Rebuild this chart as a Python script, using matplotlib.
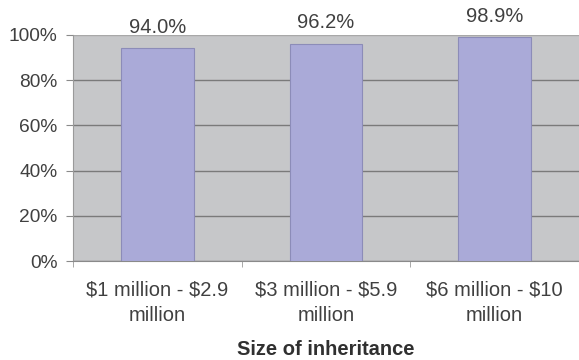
import matplotlib
matplotlib.use('Agg')
import matplotlib.pyplot as plt
from matplotlib.ticker import FixedLocator, PercentFormatter

# data
categories = ['\\$1 million - \\$2.9\nmillion', '\\$3 million - \\$5.9\nmillion', '\\$6 million - \\$10\nmillion']
shares = [94.0, 96.2, 98.9]
value_labels = ['94.0%', '96.2%', '98.9%']

plt.rcParams['font.family'] = ['Liberation Sans', 'DejaVu Sans']

fig = plt.figure(figsize=(5.79, 3.6), dpi=100)
ax = fig.add_axes([0.126, 0.275, 0.874, 0.628])

x = range(len(categories))
ax.set_facecolor('#c6c7c9')
ax.bar(x, shares, width=0.43, color='#aaaad8', edgecolor='#8c8cb8', linewidth=0.8, zorder=3)

for xi, v, lab in zip(x, shares, value_labels):
    ax.annotate(lab, xy=(xi, v), xytext=(0, 8), textcoords='offset points',
                ha='center', va='bottom', fontsize=14.5, color='#404040')

ax.set_xlim(-0.5, 2.5)
ax.set_ylim(0, 100)
ax.set_yticks(range(0, 101, 20))
ax.yaxis.set_major_formatter(PercentFormatter(decimals=0))
ax.grid(axis='y', color='#7a7a7a', linewidth=1.0, zorder=1)
ax.get_ygridlines()[-1].set_color('#a8a8a8')

ax.set_xticks(list(x))
ax.set_xticklabels(categories, linespacing=1.45)
ax.xaxis.set_minor_locator(FixedLocator([-0.5, 0.5, 1.5, 2.5]))
ax.tick_params(axis='x', which='major', length=0, pad=14, labelsize=14.5, labelcolor='#404040')
ax.tick_params(axis='x', which='minor', length=4, color='#9a9a9a')
ax.tick_params(axis='y', length=5, color='#8a8a8a', pad=6, labelsize=13.8, labelcolor='#404040')

for side in ['top', 'right']:
    ax.spines[side].set_visible(False)
ax.spines['left'].set_color('#9a9a9a')
ax.spines['bottom'].set_color('#8a8a8a')

ax.set_xlabel('Size of inheritance', fontsize=14.5, fontweight='bold', color='#303030', labelpad=11)

fig.savefig('out.png', dpi=100)
